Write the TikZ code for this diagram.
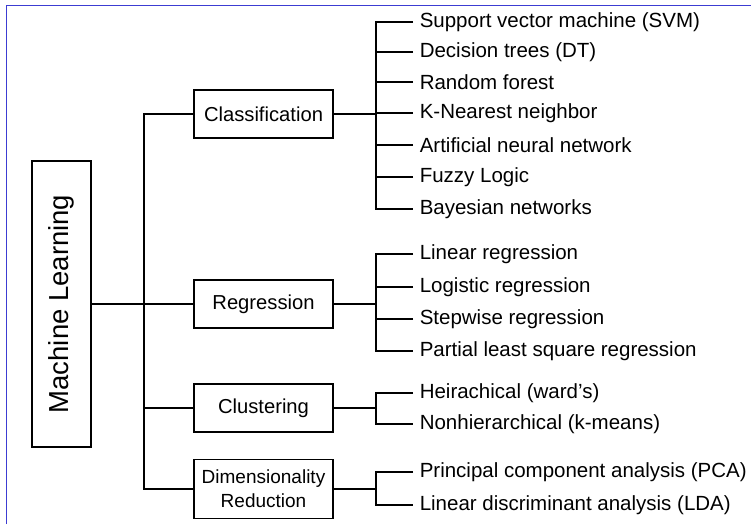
\documentclass[tikz,border=0pt]{standalone}
\usepackage{fontspec}
\setmainfont{Liberation Sans}
\definecolor{framecol}{RGB}{60,60,210}
\begin{document}
\begin{tikzpicture}[x=1pt,y=-1pt,
  line width=1.5pt,
  catbox/.style={draw, line width=1.6pt, minimum width=139pt, inner sep=0pt, align=center,
                 font=\fontsize{20.2}{24}\selectfont},
  leaf/.style={anchor=west, inner xsep=6pt, inner ysep=0pt, font=\fontsize{20.5}{24}\selectfont},
  conn/.style={line width=1.5pt}
]
\useasboundingbox (0,0) rectangle (751,524);
% frame (top and left edges only)
\draw[framecol, line width=1pt] (6,524) -- (6,5.5) -- (751,5.5);

% root
\node[draw, line width=2.2pt, minimum width=286pt, minimum height=59pt, inner sep=0pt,
      rotate=90, font=\fontsize{27.5}{30}\selectfont] (ml) at (61.5,304) {Machine Learning};

% categories
\node[catbox, minimum height=48pt] (cls) at (263.5,114) {Classification};
\node[catbox, minimum height=48pt] (reg) at (263.5,304) {Regression};
\node[catbox, minimum height=48pt] (clu) at (263.5,408) {Clustering};
\node[catbox, minimum height=59pt, font=\fontsize{19}{24}\selectfont] (dim) at (263.5,489) {Dimensionality\\Reduction};

% trunk
\coordinate (tk) at (144,304);
\draw[conn] (ml.south) -- (ml.south -| tk);
\draw[conn] (cls.west) -| (tk) |- (dim.west);
\draw[conn] (reg.west) -- (reg.west -| tk);
\draw[conn] (clu.west) -- (clu.west -| tk);

% leaves
\coordinate (bx) at (376,0);
\node[leaf] (c1) at (413,22)  {Support vector machine (SVM)};
\node[leaf] (c2) at (413,52)  {Decision trees (DT)};
\node[leaf] (c3) at (413,82)  {Random forest};
\node[leaf] (c4) at (413,113) {K-Nearest neighbor};
\node[leaf] (c5) at (413,145) {Artificial neural network};
\node[leaf] (c6) at (413,177) {Fuzzy Logic};
\node[leaf] (c7) at (413,209) {Bayesian networks};

\node[leaf] (r1) at (413,254) {Linear regression};
\node[leaf] (r2) at (413,287) {Logistic regression};
\node[leaf] (r3) at (413,319) {Stepwise regression};
\node[leaf] (r4) at (413,351) {Partial least square regression};

\node[leaf] (k1) at (413,393) {Heirachical (ward’s)};
\node[leaf] (k2) at (413,424) {Nonhierarchical (k-means)};

\node[leaf] (d1) at (413,472) {Principal component analysis (PCA)};
\node[leaf] (d2) at (413,505) {Linear discriminant analysis (LDA)};

% classification bracket
\draw[conn] (c1.west) -- (c1.west -| bx) -- (c7.west -| bx) -- (c7.west);
\foreach \n in {c2,c3,c4,c5,c6} \draw[conn] (\n.west) -- (\n.west -| bx);
\draw[conn] (cls.east) -- (cls.east -| bx);

% regression bracket
\draw[conn] (r1.west) -- (r1.west -| bx) -- (r4.west -| bx) -- (r4.west);
\foreach \n in {r2,r3} \draw[conn] (\n.west) -- (\n.west -| bx);
\draw[conn] (reg.east) -- (reg.east -| bx);

% clustering bracket
\draw[conn] (k1.west) -- (k1.west -| bx) -- (k2.west -| bx) -- (k2.west);
\draw[conn] (clu.east) -- (clu.east -| bx);

% dimensionality bracket
\draw[conn] (d1.west) -- (d1.west -| bx) -- (d2.west -| bx) -- (d2.west);
\draw[conn] (dim.east) -- (dim.east -| bx);
\end{tikzpicture}
\end{document}
